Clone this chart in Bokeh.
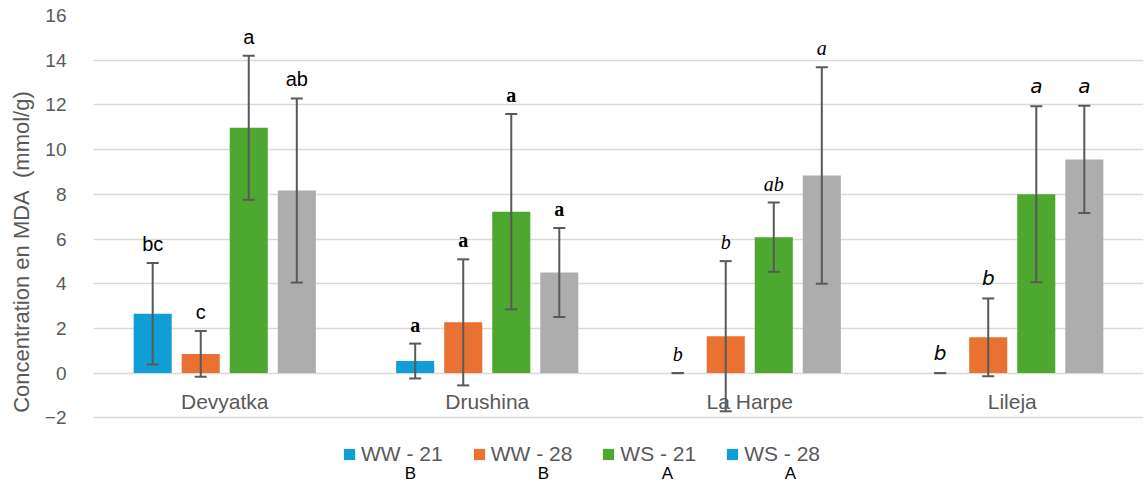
from bokeh.plotting import figure
from bokeh.models import (ColumnDataSource, FactorRange, Range1d, FixedTicker,
                          Whisker, TeeHead, Legend, LegendItem, Label)
from bokeh.transform import dodge
from bokeh.core.properties import value
from bokeh.embed import file_html
from bokeh.resources import INLINE

# ---- data -------------------------------------------------------------
cultivars = ["Devyatka", "Drushina", "La Harpe", "Lileja"]
series = ["WW - 21", "WW - 28", "WS - 21", "WS - 28"]

ww21 = [2.66, 0.54, 0.0, 0.0]
ww21_err = [2.27, 0.78, 0.0, 0.0]
ww28 = [0.86, 2.27, 1.65, 1.60]
ww28_err = [1.02, 2.82, 3.36, 1.74]
ws21 = [10.98, 7.22, 6.08, 8.00]
ws21_err = [3.22, 4.37, 1.55, 3.94]
ws28 = [8.17, 4.50, 8.84, 9.56]
ws28_err = [4.12, 1.99, 4.84, 2.40]

# significance letters per bar (per cultivar, per series)
ww21_sig = ["bc", "a", "b", "b"]
ww28_sig = ["c", "a", "b", "b"]
ws21_sig = ["a", "a", "ab", "a"]
ws28_sig = ["ab", "a", "a", "a"]

# treatment-level letters shown under the legend
group_sig = ["B", "B", "A", "A"]

y_ticks = [-2, 0, 2, 4, 6, 8, 10, 12, 14, 16]

# ---- styling -----------------------------------------------------------
colors = ["#0F9ED5", "#E97132", "#4EA72E", "#ADADAD"]
sig_fonts = ["Liberation Sans", "Liberation Serif", "Liberation Serif", "DejaVu Sans"]
sig_styles = ["normal", "bold", "italic", "italic"]
grey_text = "#595959"

W, H = 1145, 488
top_px, left_px, right_px = 15, 93, 2
px_per_unit = 402.3 / 18.0
frame_h = H - top_px
y_lo = y_ticks[-1] - frame_h / px_per_unit

p = figure(width=W, height=H, x_range=FactorRange(factors=cultivars, range_padding=0),
           y_range=Range1d(y_lo, y_ticks[-1]), x_axis_location=None,
           output_backend="svg", toolbar_location=None,
           min_border_left=left_px, min_border_right=right_px,
           min_border_top=top_px, min_border_bottom=0)
p.outline_line_color = None
p.background_fill_color = "white"
p.border_fill_color = "white"

ticker = FixedTicker(ticks=y_ticks)
yax = p.yaxis[0]
yax.ticker = ticker
yax.bounds = (y_ticks[0], y_ticks[-1])
yax.axis_line_color = None
yax.major_tick_line_color = None
yax.minor_tick_line_color = None
yax.major_label_text_font = "Liberation Sans"
yax.major_label_text_font_size = "19px"
yax.major_label_text_color = grey_text
yax.major_label_standoff = 21
yax.axis_label = "Concentration en MDA\u00a0 (mmol/g)"
yax.axis_label_text_font = "Liberation Sans"
yax.axis_label_text_font_size = "22px"
yax.axis_label_text_font_style = "normal"
yax.axis_label_text_color = grey_text
yax.axis_label_standoff = 8

p.xgrid.visible = False
p.ygrid.ticker = ticker
p.ygrid.grid_line_color = "#D9D9D9"
p.ygrid.grid_line_width = 1.6

values = [ww21, ww28, ws21, ws28]
errors = [ww21_err, ww28_err, ws21_err, ws28_err]
sigs = [ww21_sig, ww28_sig, ws21_sig, ws28_sig]

bar_w = 0.145
step = 0.183
offsets = [(i - 1.5) * step for i in range(4)]

bar_renderers = []
for i in range(4):
    src = ColumnDataSource(dict(
        cultivar=cultivars,
        val=values[i],
        upper=[v + e for v, e in zip(values[i], errors[i])],
        lower=[v - e for v, e in zip(values[i], errors[i])],
        sig=sigs[i],
        font=sig_fonts,
        style=sig_styles,
    ))
    xd = dodge("cultivar", offsets[i], range=p.x_range)
    r = p.vbar(x=xd, top="val", width=bar_w, source=src,
               fill_color=colors[i], line_color=None)
    bar_renderers.append(r)

    wk = Whisker(base=xd, upper="upper", lower="lower", source=src,
                 line_color=grey_text, line_width=2, level="annotation",
                 upper_head=TeeHead(size=12, line_color=grey_text, line_width=2),
                 lower_head=TeeHead(size=12, line_color=grey_text, line_width=2))
    p.add_layout(wk)

    p.text(x=xd, y="upper", text="sig", source=src,
           text_font="font", text_font_style="style",
           text_font_size="20px", text_color="black",
           text_align="center", text_baseline="bottom", y_offset=-8)

# category names sitting just under the zero line
p.text(x=cultivars, y=[0] * len(cultivars), text=cultivars,
       text_font=value("Liberation Sans"), text_font_size="21px",
       text_color=grey_text, text_align="center", text_baseline="top",
       y_offset=17)

# legend: the last entry reuses the blue swatch
legend_renderers = bar_renderers[:3] + [bar_renderers[0]]
legend = Legend(
    items=[LegendItem(label=s, renderers=[r]) for s, r in zip(series, legend_renderers)],
    orientation="horizontal", location=(249, 22),
    border_line_color=None, background_fill_alpha=0,
    glyph_width=14, glyph_height=14, label_standoff=5, spacing=29,
    padding=0, margin=0,
    label_text_font="Liberation Sans", label_text_font_size="21px",
    label_text_color=grey_text)
p.add_layout(legend)

group_x = [317, 450, 574, 697]
for gx, g in zip(group_x, group_sig):
    p.add_layout(Label(x=gx, y=15, x_units="screen", y_units="screen", text=g,
                       text_font="Liberation Sans", text_font_size="17px",
                       text_color="black", text_align="center",
                       text_baseline="middle"))

open("out.html", "w").write(file_html(p, INLINE))
